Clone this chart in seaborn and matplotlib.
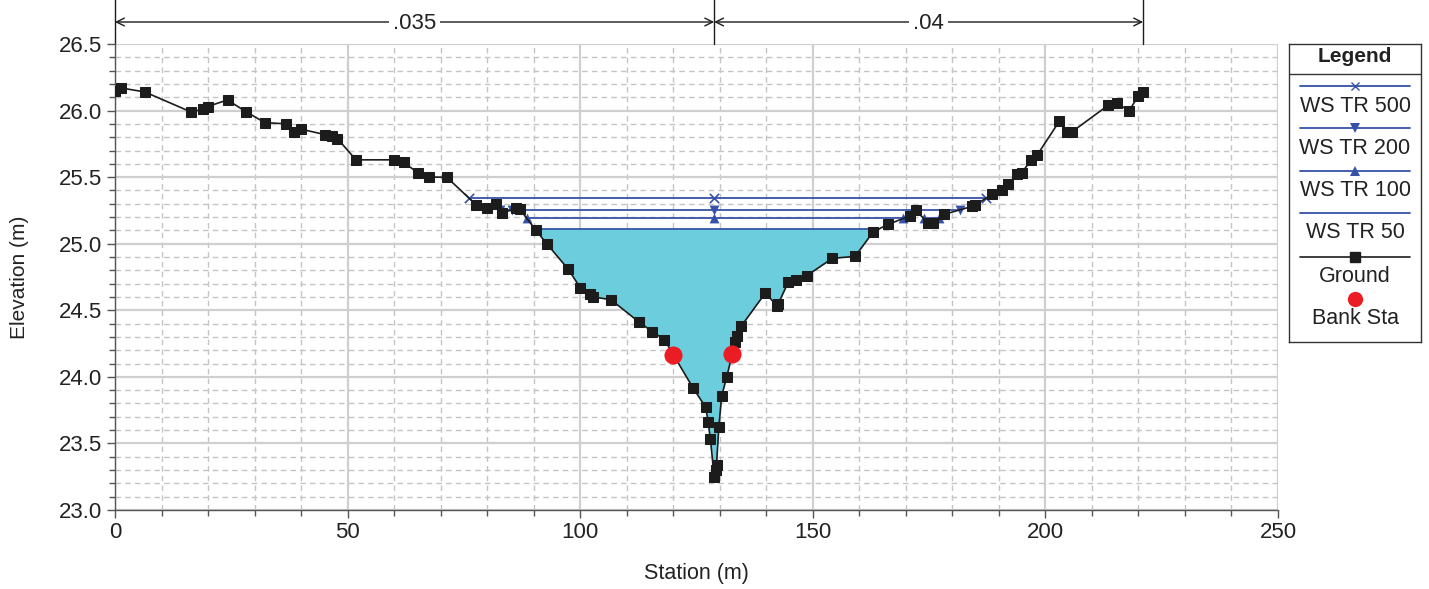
import numpy as np
import pandas as pd
import matplotlib
matplotlib.use("Agg")
import matplotlib.pyplot as plt
import seaborn as sns
from matplotlib.transforms import blended_transform_factory
from matplotlib.ticker import MultipleLocator, FormatStrFormatter

# ---------------- data ----------------
ground_station = [0.0, 1.3, 6.4, 16.3, 19.0, 19.9, 24.2, 28.2, 32.2, 36.8, 38.4, 40.0,
                  45.1, 46.6, 47.8, 51.8, 60.0, 62.1, 65.2, 67.5, 71.3, 77.7, 79.9, 82.0,
                  83.1, 86.3, 87.0, 90.4, 92.8, 97.4, 100.0, 102.0, 102.8, 106.6, 112.7,
                  115.5, 118.1, 124.2, 127.0, 127.5, 128.0, 128.8, 129.1, 129.3, 129.8,
                  130.4, 131.5, 133.3, 133.8, 134.6, 139.8, 142.4, 142.6, 144.7, 146.3,
                  148.7, 154.2, 159.1, 163.0, 166.2, 170.9, 172.1, 174.8, 175.8, 178.2,
                  184.2, 184.9, 188.5, 190.6, 192.0, 193.8, 194.9, 196.9, 198.3, 203.0,
                  204.6, 205.7, 213.5, 215.3, 218.0, 220.0, 221.0]
ground_elev = [26.15, 26.17, 26.14, 25.99, 26.01, 26.03, 26.08, 25.99, 25.91, 25.90, 25.84, 25.86,
               25.82, 25.81, 25.79, 25.63, 25.63, 25.61, 25.53, 25.50, 25.50, 25.29, 25.265, 25.30,
               25.23, 25.265, 25.26, 25.105, 25.00, 24.81, 24.67, 24.62, 24.60, 24.58, 24.41,
               24.34, 24.28, 23.92, 23.77, 23.66, 23.53, 23.25, 23.30, 23.34, 23.62,
               23.855, 24.00, 24.26, 24.31, 24.38, 24.63, 24.53, 24.55, 24.71, 24.73,
               24.76, 24.89, 24.905, 25.09, 25.145, 25.21, 25.25, 25.157, 25.157, 25.22,
               25.28, 25.29, 25.37, 25.40, 25.45, 25.52, 25.53, 25.63, 25.67, 25.92,
               25.84, 25.84, 26.04, 26.055, 26.00, 26.11, 26.14]

ws_profiles = ["WS TR 500", "WS TR 200", "WS TR 100", "WS TR 50"]
ws_elev = [25.34, 25.255, 25.19, 25.11]
ws_markers = ["x", "v", "^", None]

bank_station = [120.0, 132.7]

n_break_station = [0.0, 128.8, 221.0]
n_values = [".035", ".04"]

# ---------------- style ----------------
sns.set_style("white")
plt.rcParams["font.family"] = ["Liberation Sans", "DejaVu Sans"]

BLUE = "#3552A8"
BLACK = "#1c1c1c"
RED = "#EC1C24"
FILL = "#6CCDDC"
TXT = "#222222"

W, H = 1429, 589
fig = plt.figure(figsize=(W / 100, H / 100), dpi=100)
ax = fig.add_axes([115 / W, 1 - 510 / H, (1278 - 115) / W, (510 - 44) / H])

gx = np.array(ground_station)
gy = np.array(ground_elev)


def wet_segments(xs, ys, level):
    segs = []
    start = None
    below = ys < level
    for i in range(len(xs)):
        if below[i] and start is None:
            if i == 0:
                start = xs[0]
            else:
                x0, x1, y0, y1 = xs[i - 1], xs[i], ys[i - 1], ys[i]
                start = x0 + (level - y0) * (x1 - x0) / (y1 - y0)
        elif (not below[i]) and start is not None:
            x0, x1, y0, y1 = xs[i - 1], xs[i], ys[i - 1], ys[i]
            end = x0 + (level - y0) * (x1 - x0) / (y1 - y0)
            segs.append((start, end))
            start = None
    if start is not None:
        segs.append((start, xs[-1]))
    return segs


# fill for lowest profile
ws_low = ws_elev[-1]
ax.fill_between(gx, gy, ws_low, where=gy <= ws_low, interpolate=True,
                color=FILL, lw=0, zorder=1)

# water surfaces
center = n_break_station[1]
for name, lvl, mk in zip(ws_profiles, ws_elev, ws_markers):
    segs = wet_segments(gx, gy, lvl)
    mx = []
    for (a, b) in segs:
        sns.lineplot(x=[a, b], y=[lvl, lvl], ax=ax, color=BLUE, lw=1.3,
                     sort=False, estimator=None, zorder=2)
        mx += [a, b]
        if a <= center <= b:
            mx.append(center)
    if mk is not None and mx:
        if mk == "x":
            sns.scatterplot(x=mx, y=[lvl] * len(mx), ax=ax, marker="x", s=45,
                            color=BLUE, linewidth=1.2, zorder=3)
        else:
            sns.scatterplot(x=mx, y=[lvl] * len(mx), ax=ax, marker=mk, s=50,
                            color=BLUE, edgecolor=BLUE, linewidth=0, zorder=3)

# ground
sns.lineplot(x=gx, y=gy, ax=ax, sort=False, estimator=None, color=BLACK, lw=1.2,
             marker="s", markersize=7.5, markeredgecolor=BLACK, markerfacecolor=BLACK,
             zorder=4)

# bank stations
sns.scatterplot(x=bank_station, y=np.interp(bank_station, gx, gy), ax=ax,
                s=170, color=RED, edgecolor=RED, linewidth=0, zorder=5)

# axes formatting
ax.set_xlim(0, 250)
ax.set_ylim(23.0, 26.5)
ax.xaxis.set_major_locator(MultipleLocator(50))
ax.xaxis.set_minor_locator(MultipleLocator(10))
ax.yaxis.set_major_locator(MultipleLocator(0.5))
ax.yaxis.set_minor_locator(MultipleLocator(0.1))
ax.yaxis.set_major_formatter(FormatStrFormatter("%.1f"))
ax.grid(which="major", color="#cfcfcf", lw=1.6, ls="-", zorder=0)
ax.grid(which="minor", color="#c4c4c4", lw=1.0, ls=(0, (4, 3)), zorder=0)
ax.set_axisbelow(True)
for s in ["top", "right"]:
    ax.spines[s].set_visible(False)
for s in ["left", "bottom"]:
    ax.spines[s].set_color("#555555")
    ax.spines[s].set_linewidth(1.0)
ax.tick_params(which="major", direction="out", length=6, width=1, color="#555555",
               labelsize=16, labelcolor=TXT, left=True, bottom=True, pad=3)
ax.tick_params(which="minor", direction="out", length=4, width=1, color="#555555",
               left=True, bottom=True)
ax.set_xlabel("Station (m)", fontsize=15.5, color=TXT, labelpad=14)
ax.set_ylabel("Elevation (m)", fontsize=15, color=TXT, labelpad=22)

# Manning's n annotation on top
tr = blended_transform_factory(ax.transData, ax.transAxes)
y_arrow = 1 + 22 / 466
for xs in n_break_station:
    ax.plot([xs, xs], [1.0, 1.1], transform=tr, color=BLACK, lw=1.0, clip_on=False)
for i, lab in enumerate(n_values):
    a, b = n_break_station[i], n_break_station[i + 1]
    ax.annotate("", xy=(a, y_arrow), xytext=(b, y_arrow), xycoords=tr, textcoords=tr,
                arrowprops=dict(arrowstyle="<->", lw=1.0, color=BLACK,
                                shrinkA=0, shrinkB=0, mutation_scale=14),
                annotation_clip=False)
    ax.text((a + b) / 2, y_arrow - 0.004, lab, transform=tr, ha="center", va="center",
            fontsize=16, color=TXT,
            bbox=dict(facecolor="white", edgecolor="none", pad=3))

# ---------------- legend box ----------------
lx0, ly0, lx1, ly1 = 1289, 44, 1421, 342
lg = fig.add_axes([lx0 / W, 1 - ly1 / H, (lx1 - lx0) / W, (ly1 - ly0) / H])
lg.set_xlim(0, lx1 - lx0)
lg.set_ylim(ly1 - ly0, 0)
lg.set_xticks([])
lg.set_yticks([])
for s in lg.spines.values():
    s.set_color("#333333")
    s.set_linewidth(1.0)
lg.text(66, 12.5, "Legend", ha="center", va="center", fontsize=15, fontweight="bold",
        color=TXT)
lg.plot([0, lx1 - lx0], [29.5, 29.5], color="#333333", lw=1.0)
line_y = [41.7, 84.3, 127, 169.3]
text_y = [62, 104, 147, 189]
for name, mk, yl, yt in zip(ws_profiles, ws_markers, line_y, text_y):
    lg.plot([11, 121], [yl, yl], color=BLUE, lw=1.3)
    if mk == "x":
        lg.plot([66], [yl], marker="x", color=BLUE, ms=6, mew=1.0)
    elif mk is not None:
        lg.plot([66], [yl], marker=mk, color=BLUE, ms=6.5, mew=0)
    lg.text(66, yt, name, ha="center", va="center", fontsize=15.5, color=TXT)
lg.plot([11, 121], [212.7, 212.7], color=BLACK, lw=1.2)
lg.plot([66], [212.7], marker="s", color=BLACK, ms=7)
lg.text(66, 232, "Ground", ha="center", va="center", fontsize=15.5, color=TXT)
lg.plot([66], [255.3], marker="o", color=RED, ms=11, mew=0)
lg.text(66, 274, "Bank Sta", ha="center", va="center", fontsize=15.5, color=TXT)

fig.savefig("out.png", dpi=100, facecolor="white")
